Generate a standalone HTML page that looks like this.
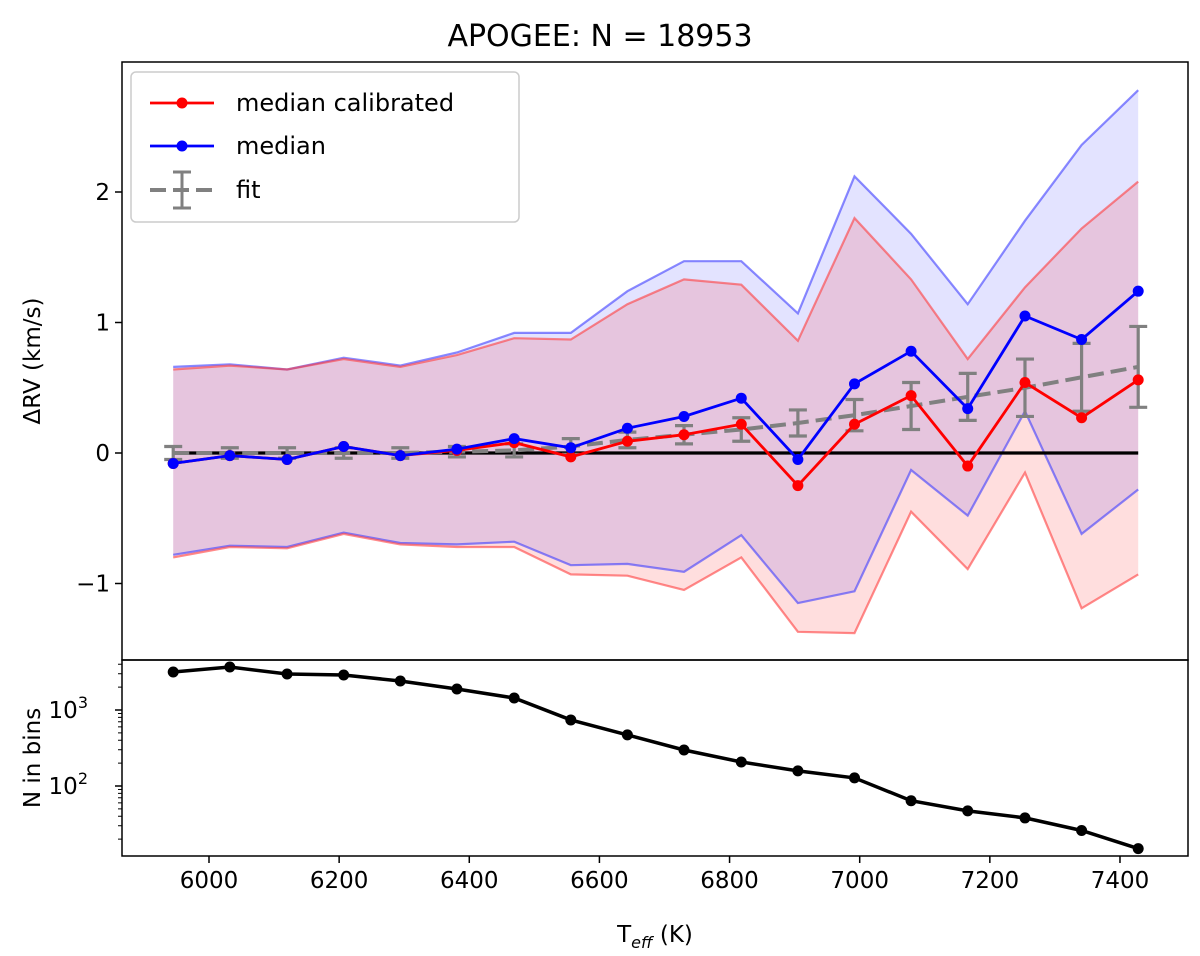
<!DOCTYPE html>
<html><head><meta charset="utf-8"><style>
body{margin:0;background:#fff}
svg{display:block;font-family:"DejaVu Sans","Liberation Sans",sans-serif}
</style></head><body>
<svg id="c" width="1200" height="956" viewBox="0 0 1200 956"></svg>
<script>
const teff=[5945,6032,6120,6207,6294,6381,6469,6556,6643,6730,6818,6905,6992,7079,7166,7254,7341,7428];
const medianVals=[-0.08,-0.02,-0.05,0.05,-0.02,0.03,0.11,0.04,0.19,0.28,0.42,-0.05,0.53,0.78,0.34,1.05,0.87,1.24];
const calibVals=[-0.08,-0.02,-0.05,0.05,-0.02,0.02,0.08,-0.03,0.09,0.14,0.22,-0.25,0.22,0.44,-0.10,0.54,0.27,0.56];
const medianUpper=[0.66,0.68,0.64,0.73,0.67,0.77,0.92,0.92,1.24,1.47,1.47,1.07,2.12,1.68,1.14,1.78,2.36,2.78];
const medianLower=[-0.78,-0.71,-0.72,-0.61,-0.69,-0.70,-0.68,-0.86,-0.85,-0.91,-0.63,-1.15,-1.06,-0.13,-0.48,0.32,-0.62,-0.28];
const calibUpper=[0.64,0.67,0.64,0.72,0.66,0.75,0.88,0.87,1.14,1.33,1.29,0.86,1.80,1.33,0.72,1.27,1.72,2.08];
const calibLower=[-0.80,-0.72,-0.73,-0.62,-0.70,-0.72,-0.72,-0.93,-0.94,-1.05,-0.80,-1.37,-1.38,-0.45,-0.89,-0.15,-1.19,-0.93];
const fitVals=[0,0,0,0,0,0.01,0.02,0.05,0.10,0.14,0.18,0.23,0.29,0.36,0.43,0.50,0.58,0.66];
const fitErr=[0.05,0.04,0.04,0.04,0.04,0.04,0.05,0.06,0.06,0.07,0.09,0.10,0.12,0.18,0.18,0.22,0.26,0.31];
const counts=[3160,3680,2980,2890,2410,1890,1440,740,470,298,207,158,128,64,47,38,26,15];
const xTicks=[6000,6200,6400,6600,6800,7000,7200,7400];
const yTicks=[-1,0,1,2];

const NS="http://www.w3.org/2000/svg",svg=document.getElementById('c');
function el(t,a,p){const e=document.createElementNS(NS,t);for(const k in a)e.setAttribute(k,a[k]);(p||svg).appendChild(e);return e;}
const X=v=>209+(v-6000)*0.6507;
const Y=v=>453-v*130.5;
const YL=v=>710-(Math.log10(v)-3)*76;
const L=122,R=1188,T=62,M=660,B=856;

function poly(xs,ys,f){return xs.map((x,i)=>X(x).toFixed(1)+','+f(ys[i]).toFixed(1)).join(' ');}
function band(up,lo){return poly(teff,up,Y)+' '+teff.map((x,i)=>X(x).toFixed(1)+','+Y(lo[i]).toFixed(1)).reverse().join(' ');}
let e;
e=el('polygon',{points:band(medianUpper,medianLower),fill:'rgba(0,0,255,0.11)',stroke:'none'});

e=el('polygon',{points:band(calibUpper,calibLower),fill:'rgba(255,0,0,0.13)',stroke:'none'});

[[medianUpper,'rgba(60,60,255,0.6)'],[medianLower,'rgba(60,60,255,0.6)'],[calibUpper,'rgba(255,60,60,0.6)'],[calibLower,'rgba(255,60,60,0.6)']].forEach(([a,c])=>{
 e=el('polyline',{points:poly(teff,a,Y),fill:'none',stroke:c,'stroke-width':2.2});
 
});
e=el('line',{x1:X(teff[0]),x2:X(teff[17]),y1:Y(0),y2:Y(0),stroke:'#000','stroke-width':3.2});

teff.forEach((t,i)=>{const x=X(t),a=Y(fitVals[i]+fitErr[i]),b=Y(fitVals[i]-fitErr[i]);
 const g=el('g',{stroke:'#808080','stroke-width':3.2});
 
 el('line',{x1:x,x2:x,y1:a,y2:b},g);el('line',{x1:x-9,x2:x+9,y1:a,y2:a},g);el('line',{x1:x-9,x2:x+9,y1:b,y2:b},g);});
e=el('polyline',{points:poly(teff,fitVals,Y),fill:'none',stroke:'#808080','stroke-width':4,'stroke-dasharray':'16,7'});

[[calibVals,'#ff0000','calibrated'],[medianVals,'#0000ff','median']].forEach(([a,c,n])=>{
 e=el('polyline',{points:poly(teff,a,Y),fill:'none',stroke:c,'stroke-width':2.8});
 
 teff.forEach((t,i)=>{e=el('circle',{cx:X(t),cy:Y(a[i]),r:5.5,fill:c});
  });
});
e=el('polyline',{points:poly(teff,counts,YL),fill:'none',stroke:'#000','stroke-width':3.5});

teff.forEach((t,i)=>{e=el('circle',{cx:X(t),cy:YL(counts[i]),r:5.5,fill:'#000'});
 });
e=el('rect',{x:L,y:T,width:R-L,height:M-T,fill:'none',stroke:'#000','stroke-width':1.5});

e=el('rect',{x:L,y:M,width:R-L,height:B-M,fill:'none',stroke:'#000','stroke-width':1.5});

yTicks.forEach(v=>{const y=Y(v);el('line',{x1:L-7,x2:L,y1:y,y2:y,stroke:'#000','stroke-width':1.5});
 e=el('text',{x:L-12,y:y+8,'text-anchor':'end','font-size':23});e.textContent=v<0?'−'+(-v):v;
 });
[100,1000].forEach((v,k)=>{const y=YL(v);el('line',{x1:L-7,x2:L,y1:y,y2:y,stroke:'#000','stroke-width':1.5});
 e=el('text',{x:L-34,y:y+8,'text-anchor':'end','font-size':23});e.textContent='10';
 const s=el('tspan',{dy:-10,'font-size':16},e);s.textContent=k?'3':'2';
 });
for(let d=1;d<=3;d++)for(let m=2;m<10;m++){const v=m*Math.pow(10,d);const y=YL(v);if(y>M&&y<B)el('line',{x1:L-4,x2:L,y1:y,y2:y,stroke:'#000','stroke-width':1});}
xTicks.forEach(v=>{const x=X(v);el('line',{x1:x,x2:x,y1:B,y2:B+7,stroke:'#000','stroke-width':1.5});
 e=el('text',{x:x,y:B+32,'text-anchor':'middle','font-size':23});e.textContent=v;
 });
e=el('text',{x:600,y:46,'text-anchor':'middle','font-size':30});e.textContent='APOGEE: N = 18953';

e=el('text',{x:40,y:361,'text-anchor':'middle','font-size':23,transform:'rotate(-90 40 361)'});e.textContent='ΔRV (km/s)';

e=el('text',{x:40,y:758,'text-anchor':'middle','font-size':23,transform:'rotate(-90 40 758)'});e.textContent='N in bins';

e=el('text',{x:655,y:942,'text-anchor':'middle','font-size':23});e.textContent='T';
const sub=el('tspan',{dy:6,'font-size':16,'font-style':'italic'},e);sub.textContent='eff';
const un=el('tspan',{dy:-6},e);un.textContent=' (K)';

const lg=el('g',{});
el('rect',{x:131,y:72,width:388,height:150,rx:5,fill:'rgba(255,255,255,0.85)',stroke:'#ccc','stroke-width':1.5},lg);
[['median calibrated','#ff0000',103],['median','#0000ff',146],['fit','#808080',190]].forEach(([t,c,y],i)=>{
 const g=el('g',{},lg);
 if(i<2){el('line',{x1:150,x2:214,y1:y,y2:y,stroke:c,'stroke-width':2.8},g);el('circle',{cx:182,cy:y,r:5.5,fill:c},g);}
 else{el('line',{x1:150,x2:214,y1:y,y2:y,stroke:c,'stroke-width':4,'stroke-dasharray':'16,7'},g);
  el('line',{x1:182,x2:182,y1:y-18,y2:y+18,stroke:c,'stroke-width':3},g);
  el('line',{x1:173,x2:191,y1:y-18,y2:y-18,stroke:c,'stroke-width':3},g);
  el('line',{x1:173,x2:191,y1:y+18,y2:y+18,stroke:c,'stroke-width':3},g);}
 const tx=el('text',{x:236,y:y+8,'font-size':24},g);tx.textContent=t;});
</script>
</body></html>
